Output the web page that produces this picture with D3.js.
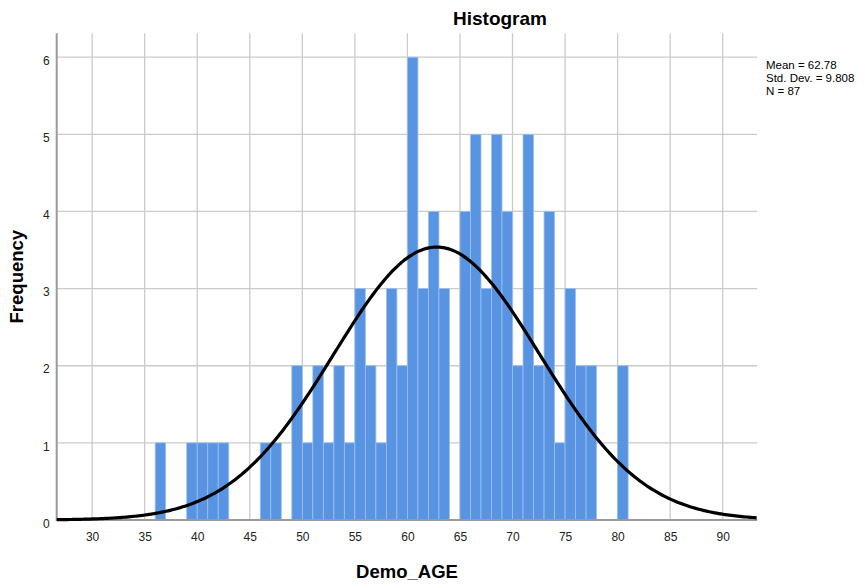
<!DOCTYPE html>
<html>
<head>
<meta charset="utf-8">
<script src="https://cdn.jsdelivr.net/npm/d3@7"></script>
<style>
  body { margin: 0; background: #fff; }
  text { font-family: "Liberation Sans", Arial, sans-serif; fill: #000; }
  .grid line { stroke: #cbcbcb; stroke-width: 1.3; }
  .bar { fill: #5894e2; stroke: #9cc0f0; stroke-width: 0.8; }
  .curve { fill: none; stroke: #000; stroke-width: 3.2; }
  .axisLine { stroke: #9a9a9a; stroke-width: 2; }
  .tick text { font-size: 12px; fill: #222; }
</style>
</head>
<body>
<svg class="chart" width="867" height="585"></svg>
<script>
// bin start (age) and count per one-year bin
var binStart = [36, 39, 40, 41, 42, 46, 47, 49, 50, 51, 52, 53, 54, 55, 56, 57, 58, 59,
  60, 61, 62, 63, 65, 66, 67, 68, 69, 70, 71, 72, 73, 74, 75, 76, 77, 80];
var binCount = [1, 1, 1, 1, 1, 1, 1, 2, 1, 2, 1, 2, 1, 3, 2, 1, 3, 2,
  6, 3, 4, 3, 4, 5, 3, 5, 4, 2, 5, 2, 4, 1, 3, 2, 2, 2];
var binWidth = 1;

var xTicks = [30, 35, 40, 45, 50, 55, 60, 65, 70, 75, 80, 85, 90];
var yTicks = [0, 1, 2, 3, 4, 5, 6];

var meanVal = 62.78;
var sdVal = 9.808;
var nVal = 87;
var statLines = ["Mean = 62.78", "Std. Dev. = 9.808", "N = 87"];

var plotLeft = 56.7, plotRight = 757.3, plotTop = 33.3, plotBottom = 520;

var x = d3.scaleLinear().domain([26.63, 93.29]).range([plotLeft, plotRight]);
var y = d3.scaleLinear().domain([0, 6.31]).range([plotBottom, plotTop]);

var chart = d3.select(".chart");

/* grid */
var grid = chart.append("g").attr("class", "grid");
grid.selectAll(".vg").data(xTicks).enter().append("line")
  .attr("x1", function (d) { return x(d); })
  .attr("x2", function (d) { return x(d); })
  .attr("y1", plotTop).attr("y2", plotBottom);
grid.selectAll(".hg").data(yTicks.slice(1)).enter().append("line")
  .attr("x1", plotLeft).attr("x2", plotRight)
  .attr("y1", function (d) { return y(d); })
  .attr("y2", function (d) { return y(d); });

/* bars */
chart.selectAll(".bar")
  .data(binStart)
  .enter().append("rect")
  .attr("class", "bar")
  .attr("x", function (d) { return x(d); })
  .attr("width", function (d) { return x(d + binWidth) - x(d); })
  .attr("y", function (d, i) { return y(binCount[i]); })
  .attr("height", function (d, i) { return y(0) - y(binCount[i]); });

/* axes */
var xAxis = d3.axisBottom(x).tickValues(xTicks).tickSize(0).tickPadding(8);
var yAxis = d3.axisLeft(y).tickValues(yTicks).tickFormat(d3.format("d")).tickSize(0).tickPadding(7);

var gx = chart.append("g").attr("transform", "translate(0," + plotBottom + ")").call(xAxis);
gx.select(".domain").remove();
gx.selectAll(".tick text").attr("dy", "1.05em");

var gy = chart.append("g").attr("transform", "translate(" + plotLeft + ",0)").call(yAxis);
gy.select(".domain").remove();
gy.selectAll(".tick text").attr("dy", "0.6em");

chart.append("line").attr("class", "axisLine")
  .attr("x1", plotLeft).attr("x2", plotLeft).attr("y1", plotTop).attr("y2", plotBottom + 1);
chart.append("line").attr("class", "axisLine")
  .attr("x1", plotLeft).attr("x2", plotRight).attr("y1", plotBottom).attr("y2", plotBottom);

/* fitted normal curve from the stated mean, sd and N */
var xs = d3.range(26.63, 93.3, 0.2);
var curve = d3.line()
  .x(function (d) { return x(d); })
  .y(function (d) {
    var z = (d - meanVal) / sdVal;
    return y(nVal * binWidth * Math.exp(-0.5 * z * z) / (sdVal * Math.sqrt(2 * Math.PI)));
  })
  .curve(d3.curveBasis);
chart.append("path").datum(xs).attr("class", "curve").attr("d", curve);

/* titles */
chart.append("text")
  .attr("x", 500).attr("y", 25)
  .attr("text-anchor", "middle")
  .style("font-size", "19px").style("font-weight", "bold")
  .text("Histogram");

chart.append("text")
  .attr("x", (plotLeft + plotRight) / 2).attr("y", 578)
  .attr("text-anchor", "middle")
  .style("font-size", "18.5px").style("font-weight", "bold")
  .text("Demo_AGE");

chart.append("text")
  .attr("transform", "translate(23," + (plotTop + plotBottom) / 2 + ") rotate(-90)")
  .attr("text-anchor", "middle")
  .style("font-size", "18.5px").style("font-weight", "bold")
  .text("Frequency");

/* stats box */
chart.selectAll(".stat").data(statLines).enter().append("text")
  .attr("class", "stat")
  .attr("x", 766)
  .attr("y", function (d, i) { return 69 + i * 13; })
  .style("font-size", "11.5px")
  .text(function (d) { return d; });
</script>
</body>
</html>
